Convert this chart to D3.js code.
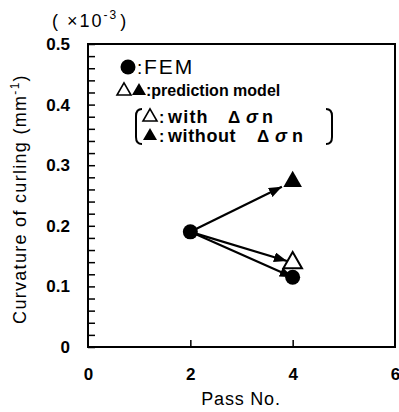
<!DOCTYPE html>
<html>
<head>
<meta charset="utf-8">
<script src="https://cdn.jsdelivr.net/npm/d3@7"></script>
<style>
  html, body { margin: 0; padding: 0; background: #fff; }
  svg { display: block; }
  text { font-family: "Liberation Sans", Arial, sans-serif; fill: #000; }
</style>
</head>
<body>
<svg id="chart" width="399" height="412"></svg>
<script>
// ---- data ----
const passNo = [2, 4];
const femCurvature = [0.19, 0.115];          // ×10^-3 mm^-1
const predPass = [4];
const predWithDsn = [0.139];
const predWithoutDsn = [0.273];
const xTicks = [0, 2, 4, 6];
const yTicks = [0, 0.1, 0.2, 0.3, 0.4, 0.5];

const svg = d3.select("#chart");
const m = { left: 88, right: 395, top: 44, bottom: 347 };
const x = d3.scaleLinear().domain([0, 6]).range([m.left, m.right]);
const y = d3.scaleLinear().domain([0, 0.5]).range([m.bottom, m.top]);

// arrow marker
const defs = svg.append("defs");
defs.append("marker").attr("id", "ah").attr("viewBox", "0 0 13 10")
  .attr("refX", 13).attr("refY", 5).attr("markerWidth", 13).attr("markerHeight", 10)
  .attr("markerUnits", "userSpaceOnUse").attr("orient", "auto")
  .append("path").attr("d", "M0,0 L13,5 L0,10 Z").attr("fill", "#000");

// minor y ticks (inward)
const yMinor = d3.range(0, 0.5001, 0.02);
svg.append("g").attr("transform", `translate(${m.left},0)`)
  .call(d3.axisRight(y).tickValues(yMinor).tickSize(7).tickFormat(""))
  .call(g => g.select(".domain").remove())
  .call(g => g.selectAll("line").attr("stroke", "#000").attr("stroke-width", 1.5));

// y tick labels
svg.append("g").attr("transform", `translate(${m.left},0)`)
  .call(d3.axisLeft(y).tickValues(yTicks).tickSize(0).tickPadding(18).tickFormat(d => d === 0 ? "0" : d3.format(".1f")(d)))
  .call(g => g.select(".domain").remove())
  .call(g => g.selectAll("text").style("font-size", "17px").style("font-weight", "bold")
    .style("font-family", "Liberation Sans, Arial, sans-serif").attr("fill", "#000"));

// x ticks (inward) and labels
svg.append("g").attr("transform", `translate(0,${m.bottom})`)
  .call(d3.axisTop(x).tickValues([2, 4]).tickSize(7).tickFormat(""))
  .call(g => g.select(".domain").remove())
  .call(g => g.selectAll("line").attr("stroke", "#000").attr("stroke-width", 1.5));
svg.append("g").attr("transform", `translate(0,${m.bottom})`)
  .call(d3.axisBottom(x).tickValues(xTicks).tickSize(0).tickPadding(21).tickFormat(d3.format("d")))
  .call(g => g.select(".domain").remove())
  .call(g => g.selectAll("text").style("font-size", "17px").style("font-weight", "bold")
    .style("font-family", "Liberation Sans, Arial, sans-serif").attr("fill", "#000"));

// frame
svg.append("rect").attr("x", m.left).attr("y", m.top)
  .attr("width", m.right - m.left).attr("height", m.bottom - m.top)
  .attr("fill", "none").attr("stroke", "#000").attr("stroke-width", 2);

// axis titles
svg.append("text").attr("x", 241).attr("y", 405)
  .attr("text-anchor", "middle").style("font-size", "18px").style("letter-spacing", "0.8px").text("Pass No.");

const yl = svg.append("text").attr("transform", "translate(26,199) rotate(-90)")
  .attr("text-anchor", "middle").style("font-size", "18px").style("letter-spacing", "1.3px");
yl.append("tspan").text("Curvature of curling  (mm");
yl.append("tspan").attr("dy", -7).style("font-size", "12px").text("-1");
yl.append("tspan").attr("dy", 7).text(")");

const ex = svg.append("text").attr("x", 52).attr("y", 27).style("font-size", "18px").style("letter-spacing", "2px");
ex.append("tspan").text("( ×10");
ex.append("tspan").attr("dy", -8).style("font-size", "12px").text("-3");
ex.append("tspan").attr("dy", 8).attr("dx", 2).text(")");

// arrows from FEM start point
const x0 = x(passNo[0]), y0 = y(femCurvature[0]);
function arrow(px, py, shorten) {
  const dx = px - x0, dy = py - y0, L = Math.hypot(dx, dy);
  const ex2 = px - dx / L * shorten, ey2 = py - dy / L * shorten;
  svg.append("line").attr("x1", x0).attr("y1", y0).attr("x2", ex2).attr("y2", ey2)
    .attr("stroke", "#000").attr("stroke-width", 2.2).attr("marker-end", "url(#ah)");
}
arrow(x(predPass[0]), y(predWithoutDsn[0]), 12);
arrow(x(predPass[0]), y(predWithDsn[0]), 6);
arrow(x(passNo[1]), y(femCurvature[1]), 0);

// markers
const tri = d3.symbol().type(d3.symbolTriangle).size(150);
svg.selectAll(".fem").data(passNo).enter().append("circle")
  .attr("cx", d => x(d)).attr("cy", (d, i) => y(femCurvature[i])).attr("r", 7.5).attr("fill", "#000");
svg.selectAll(".tw").data(predPass).enter().append("path")
  .attr("d", tri).attr("transform", (d, i) => `translate(${x(d)},${y(predWithDsn[i])})`)
  .attr("fill", "#fff").attr("stroke", "#000").attr("stroke-width", 2);
svg.selectAll(".two").data(predPass).enter().append("path")
  .attr("d", tri).attr("transform", (d, i) => `translate(${x(d)},${y(predWithoutDsn[i])})`)
  .attr("fill", "#000");

// legend
const lg = svg.append("g");
const smallTri = d3.symbol().type(d3.symbolTriangle).size(85);
function txt(xp, yp, s, opts = {}) {
  return lg.append("text").attr("x", xp).attr("y", yp)
    .style("font-size", (opts.size || 17) + "px")
    .style("font-weight", opts.bold === false ? "normal" : "bold")
    .style("font-style", opts.italic ? "italic" : "normal")
    .style("letter-spacing", (opts.ls || 0) + "px")
    .text(s);
}
lg.append("circle").attr("cx", 128).attr("cy", 67).attr("r", 7.5).attr("fill", "#000");
txt(137, 74, ":", { size: 19, bold: false });
txt(144, 74, "FEM", { size: 21, bold: false, ls: 2 });

lg.append("path").attr("d", smallTri).attr("transform", "translate(124,91)")
  .attr("fill", "#fff").attr("stroke", "#000").attr("stroke-width", 1.6);
lg.append("path").attr("d", smallTri).attr("transform", "translate(139,91)").attr("fill", "#000");
txt(146, 96, ":prediction model", { size: 16 });

// line 3
lg.append("path").attr("d", smallTri).attr("transform", "translate(150,117)")
  .attr("fill", "#fff").attr("stroke", "#000").attr("stroke-width", 1.6);
txt(159, 123, ":", { size: 16 });
txt(168, 123, "with", { size: 18, ls: 1.2 });
txt(228, 123, "Δ", { size: 17 });
txt(246, 123, "σ", { size: 18, italic: true });
txt(262, 123, "n", { size: 18 });

// line 4
lg.append("path").attr("d", smallTri).attr("transform", "translate(150,136)").attr("fill", "#000");
txt(159, 142, ":", { size: 16 });
txt(168, 142, "without", { size: 18, ls: 0.6 });
txt(257, 142, "Δ", { size: 17 });
txt(275, 142, "σ", { size: 18, italic: true });
txt(292, 142, "n", { size: 18 });

// brackets
lg.append("path").attr("d", "M142,109 Q136,109 136,116 L136,137 Q136,144 142,144")
  .attr("fill", "none").attr("stroke", "#000").attr("stroke-width", 2);
lg.append("path").attr("d", "M326,109 Q332,109 332,116 L332,137 Q332,144 326,144")
  .attr("fill", "none").attr("stroke", "#000").attr("stroke-width", 2);
</script>
</body>
</html>
